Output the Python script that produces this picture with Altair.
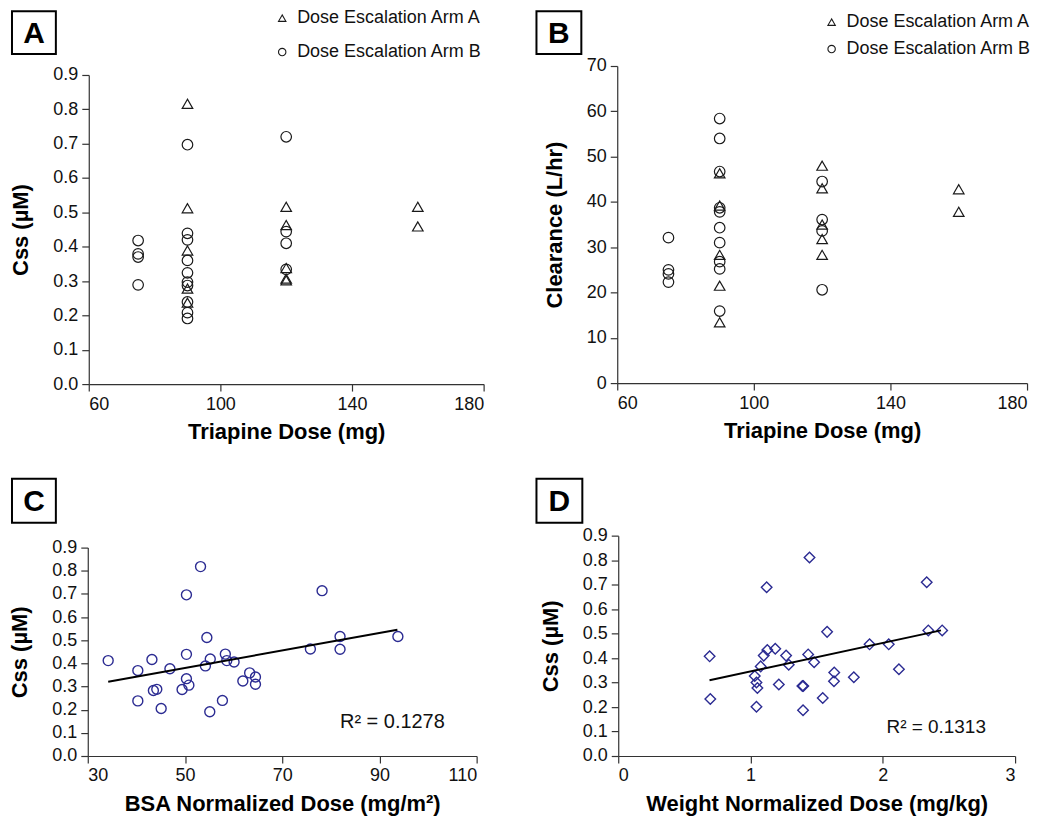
import altair as alt
import pandas as pd

FONT = "Liberation Sans"

# ---------------- data ----------------
arms = ["Dose Escalation Arm A", "Dose Escalation Arm B"]

armA_dose = [90, 90, 90, 90, 90, 120, 120, 120, 120, 120, 160, 160]
armA_css = [0.816, 0.512, 0.389, 0.278, 0.237, 0.516, 0.463, 0.338, 0.307, 0.302, 0.516, 0.459]
armA_clear = [46.3, 39.2, 28.3, 21.5, 13.4, 48.0, 43.0, 35.0, 31.8, 28.3, 42.8, 37.8]

armB_dose = [75, 75, 75, 75, 90, 90, 90, 90, 90, 90, 90, 90, 90, 90, 120, 120, 120, 120]
armB_css = [0.418, 0.379, 0.370, 0.289, 0.697, 0.439, 0.420, 0.360, 0.324, 0.297, 0.287,
            0.239, 0.208, 0.191, 0.720, 0.444, 0.410, 0.334]
armB_clear = [32.1, 25.0, 24.1, 22.3, 58.4, 54.0, 46.7, 38.7, 37.8, 34.3, 31.0, 26.8, 25.2,
              15.9, 44.5, 36.1, 33.6, 20.6]

bsa_dose = [34.2, 40.3, 43.2, 46.9, 40.3, 43.5, 44.2, 45.1, 49.4, 50.3, 50.8, 50.3, 50.3, 53.2,
            54.5, 54.2, 55.2, 55.1, 57.7, 58.3, 58.6, 60.1, 61.9, 63.3, 64.5, 64.5, 75.8, 78.2,
            81.9, 81.9, 93.8]
bsa_css = [0.412, 0.369, 0.417, 0.377, 0.238, 0.283, 0.288, 0.205, 0.287, 0.334, 0.306, 0.439,
           0.696, 0.818, 0.512, 0.389, 0.419, 0.191, 0.240, 0.440, 0.412, 0.406, 0.324, 0.359,
           0.341, 0.310, 0.462, 0.714, 0.516, 0.461, 0.516]
bsa_trend_x = [34.2, 93.7]
bsa_trend_y = [0.321, 0.545]
bsa_r2 = "R\u00b2 = 0.1278"

wt_dose = [0.691, 0.696, 1.032, 1.045, 1.052, 1.045, 1.077, 1.100, 1.127, 1.122, 1.187, 1.214,
           1.269, 1.289, 1.392, 1.399, 1.397, 1.436, 1.446, 1.481, 1.546, 1.579, 1.633, 1.631,
           1.781, 1.900, 2.045, 2.122, 2.332, 2.344, 2.449]
wt_css = [0.407, 0.233, 0.327, 0.300, 0.278, 0.201, 0.366, 0.410, 0.433, 0.689, 0.438, 0.292,
          0.410, 0.373, 0.286, 0.286, 0.187, 0.415, 0.811, 0.383, 0.237, 0.507, 0.341, 0.305,
          0.322, 0.456, 0.456, 0.354, 0.710, 0.513, 0.513]
wt_trend_x = [0.69, 2.44]
wt_trend_y = [0.309, 0.513]
wt_r2 = "R\u00b2 = 0.1313"

dose_ticks = [60, 100, 140, 180]
css_ticks = [0.0, 0.1, 0.2, 0.3, 0.4, 0.5, 0.6, 0.7, 0.8, 0.9]
clear_ticks = [0, 10, 20, 30, 40, 50, 60, 70]
bsa_ticks = [30, 50, 70, 90, 110]
wt_ticks = [0, 1, 2, 3]

# ---------------- tables ----------------
ab = pd.DataFrame({
    "dose": armA_dose + armB_dose,
    "css": armA_css + armB_css,
    "clear": armA_clear + armB_clear,
    "arm": [arms[0]] * len(armA_dose) + [arms[1]] * len(armB_dose),
})
c_df = pd.DataFrame({"x": bsa_dose, "y": bsa_css})
c_tr = pd.DataFrame({"x": bsa_trend_x, "y": bsa_trend_y})
d_df = pd.DataFrame({"x": wt_dose, "y": wt_css})
d_tr = pd.DataFrame({"x": wt_trend_x, "y": wt_trend_y})
one = pd.DataFrame({"k": [0]})

BLUE = "#2b2b92"
INK = "#1a1a1a"

# tile sizes (each panel is a tile; the plot region sits inside via scale ranges)
TW_L, TW_R, TH_T, TH_B = 518, 516, 457, 346


def label_box(letter, x1, y1, x2, y2):
    box = alt.Chart(one).mark_rect(fill="white", stroke="black", strokeWidth=2).encode(
        x=alt.value(x1), x2=alt.value(x2), y=alt.value(y1), y2=alt.value(y2))
    txt = alt.Chart(one).mark_text(fontSize=30, fontWeight="bold", font=FONT, color="black",
                                   align="center", baseline="middle").encode(
        x=alt.value((x1 + x2) / 2), y=alt.value((y1 + y2) / 2 + 1), text=alt.value(letter))
    return [box, txt]


def arm_panel(field, title, domain, yticks, yfmt, tw, th, xr, yr, lbl, letter, lx, ly, rowpad):
    pts = alt.Chart(ab).mark_point(filled=False, color=INK, size=112, strokeWidth=1.2, opacity=1).encode(
        x=alt.X("dose:Q", scale=alt.Scale(domain=[60, 180], range=xr, nice=False),
                axis=alt.Axis(values=dose_ticks, format="d", title="Triapine Dose (mg)",
                              offset=-(th - yr[0]), labelOverlap=False)),
        y=alt.Y(f"{field}:Q", scale=alt.Scale(domain=domain, range=yr, nice=False),
                axis=alt.Axis(values=yticks, format=yfmt, title=title, offset=-xr[0],
                              labelOverlap=False)),
        shape=alt.Shape("arm:N", scale=alt.Scale(domain=arms, range=["triangle-up", "circle"]),
                        legend=alt.Legend(title=None, orient="none", legendX=lx, legendY=ly,
                                          rowPadding=rowpad, labelOffset=6, padding=0,
                                          labelLimit=0, symbolSize=55, symbolStrokeWidth=1.1,
                                          labelFontSize=18, labelFont=FONT, labelColor="#111")),
    )
    return alt.layer(*label_box(letter, *lbl), pts).properties(width=tw, height=th)


pA = arm_panel("css", "Css (\u00b5M)", [0, 0.9], css_ticks, ".1f", TW_L, TH_T,
               [78, 474], [375, 65], (1, 1, 45, 44), "A", 263, -1, 16)
pB = arm_panel("clear", "Clearance (L/hr)", [0, 70], clear_ticks, "d", TW_R, TH_T,
               [90, 501], [374, 56], (9, 1, 54, 44), "B", 296, 3, 9)


def reg_panel(df, tr, xt, xdom, xticks, xfmt, shape, size, tw, th, xr, yr, lbl, letter,
              r2, rx, ry, rfs):
    xs = alt.Scale(domain=xdom, range=xr, nice=False)
    ys = alt.Scale(domain=[0, 0.9], range=yr, nice=False)
    xa = alt.Axis(values=xticks, format=xfmt, title=xt, offset=-(th - yr[0]), labelOverlap=False)
    ya = alt.Axis(values=css_ticks, format=".1f", title="Css (\u00b5M)", offset=-xr[0],
                  labelOverlap=False)
    pts = alt.Chart(df).mark_point(filled=False, color=BLUE, shape=shape, size=size,
                                   strokeWidth=1.4, opacity=1).encode(
        x=alt.X("x:Q", scale=xs, axis=xa),
        y=alt.Y("y:Q", scale=ys, axis=ya),
    )
    line = alt.Chart(tr).mark_line(color="black", strokeWidth=2).encode(
        x=alt.X("x:Q", scale=xs, axis=xa), y=alt.Y("y:Q", scale=ys, axis=ya))
    txt = alt.Chart(one).mark_text(fontSize=rfs, font=FONT, color="#111", align="left",
                                   baseline="middle").encode(
        x=alt.value(rx), y=alt.value(ry), text=alt.value(r2))
    return alt.layer(*label_box(letter, *lbl), pts, line, txt).properties(width=tw, height=th)


pC = reg_panel(c_df, c_tr, "BSA Normalized Dose (mg/m\u00b2)", [30, 110], bsa_ticks, "d",
               "circle", 100, TW_L, TH_B, [77, 467], [291, 82], (1, 13, 45, 57), "C",
               bsa_r2, 330, 257, 20)
pD = reg_panel(d_df, d_tr, "Weight Normalized Dose (mg/kg)", [0, 3], wt_ticks, "d",
               "diamond", 112, TW_R, TH_B, [91, 489], [291, 70], (9, 13, 55, 57), "D",
               wt_r2, 360, 262, 19)

chart = alt.concat(pA, pB, pC, pD, columns=2, spacing=0, bounds="flush", align="each").resolve_scale(
    shape="independent").resolve_legend(shape="independent").properties(padding=0).configure(
    font=FONT).configure_axis(
    labelFont=FONT, labelFontSize=18, labelColor="#111", titleFont=FONT, titleFontSize=22,
    titleFontWeight="bold", titleColor="#000", domainColor="#333", tickColor="#333",
    tickSize=7, labelPadding=4, grid=False, domainWidth=1.2, tickWidth=1.2,
    labelOverlap=False).configure_axisX(titlePadding=9).configure_axisY(
    titlePadding=20).configure_view(stroke=None)

chart.save("out.html", embed_options={"renderer": "svg", "actions": False})
